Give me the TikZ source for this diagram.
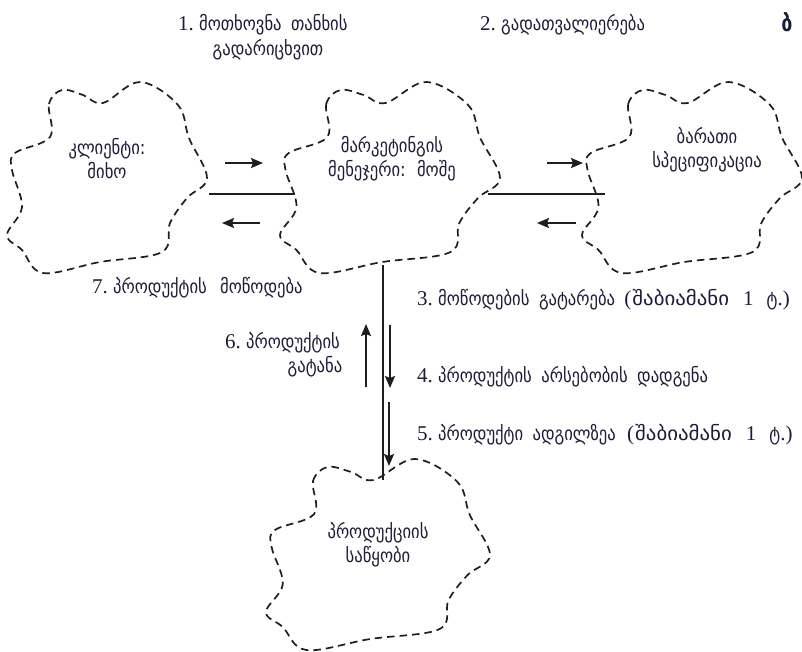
\documentclass[tikz,border=0pt]{standalone}
\usepackage{fontspec}
\setmainfont{Liberation Serif}
\newfontfamily\geofont[Scale=0.92,FakeStretch=0.86,WordSpace=1.8]{DejaVu Sans}
\newfontfamily\geowide[Scale=0.92,FakeStretch=1.08]{DejaVu Sans}
\usetikzlibrary{arrows.meta}
\definecolor{ink}{RGB}{28,28,52}
\definecolor{lineink}{RGB}{30,30,30}
\newcommand{\geo}[1]{{\geofont #1}}
\newcommand{\qty}{(\hspace{1pt}{\geowide შაბიამანი}\hspace{14pt}1\hspace{13pt}\geo{ტ}.)}

\tikzset{
  cloud/.pic={
    \draw[cloudline] plot[smooth cycle, tension=0.6] coordinates {
      (-57,-41) (-58,-74) (-45,-88) (-24,-83) (-4,-75) (33,-96)
      (71,-73) (82,-40) (100,0) (80,20) (63,45) (55,74)
      (-7,84) (-64,95) (-85,72) (-100,57) (-85,29) (-95,-8)
      (-92,-25)};
  }
}

\begin{document}
\begin{tikzpicture}[x=1pt,y=-1pt,
  font=\fontsize{21}{25}\selectfont, text=ink,
  cloudline/.style={draw=lineink, line width=1.7pt, dash pattern=on 7.5pt off 5pt},
  link/.style={draw=lineink, line width=1.3pt},
  arr/.style={draw=lineink, line width=1.9pt,
    -{Stealth[length=12pt,width=10pt,inset=2pt]}},
  lab/.style={inner sep=0pt, align=center},
  item/.style={inner sep=0pt, anchor=base west},
  sub/.style={inner sep=0pt, anchor=base}]

\useasboundingbox (0,0) rectangle (802,651);

% the four clouds
\pic at (107,178) {cloud};
\pic[xscale=1.1] at (390,178) {cloud};
\pic[xscale=1.1] at (692,178) {cloud};
\pic[xscale=1.12] at (378,555) {cloud};

% labels inside the clouds
\node[lab] (client) at (107,159) {\geo{კლიენტი:}\\[-1pt]\geo{მიხო}};
\node[lab] (manager) at (392,159) {\geo{მარკეტინგის}\\[-1pt]\geo{მენეჯერი: მოშე}};
\node[lab] (card) at (707,150) {\geo{ბარათი}\\[-1pt]\geo{სპეციფიკაცია}};
\node[lab] (store) at (378,545) {\geo{პროდუქციის}\\[-1pt]\geo{საწყობი}};

% step captions
\node[item] (s1) at (178,30) {1.\ \geo{მოთხოვნა თანხის}};
\node[sub] (s1b) at (268,55) {\geo{გადარიცხვით}};
\node[item] (s2) at (480,30) {2.\ \geo{გადათვალიერება}};
\node[inner sep=0pt, anchor=base] (mark) at (787,31)
  {\fontsize{25}{30}\selectfont\geofont\bfseries ბ};
\node[item] (s3) at (417,305) {3.\ \geo{მოწოდების გატარება}\hspace{4pt} \qty};
\node[item] (s4) at (417,382) {4.\ \geo{პროდუქტის არსებობის დადგენა}};
\node[item] (s5) at (417,440) {5.\ \geo{პროდუქტი ადგილზეა}\hspace{6pt} \qty};
\node[item] (s6) at (225,348) {6.\ \geo{პროდუქტის}};
\node[sub] (s6b) at (315,372) {\geo{გატანა}};
\node[item] (s7) at (92,293) {7.\ \geo{პროდუქტის}\hspace{8pt} \geo{მოწოდება}};

% end points of the links between the clouds
\coordinate (cR) at (209,194);
\coordinate (mL) at (295,194);
\coordinate (mR) at (488,194);
\coordinate (kL) at (605,194);
\coordinate (mB) at (383,265);
\coordinate (sT) at (383,480);

\draw[link] (cR) -- (mL);
\draw[link] (mR) -- (kL);
\draw[link] (mB) -- (sT);

% message arrows
\coordinate (a1s) at (225,163); \coordinate (a1e) at (263,163);
\coordinate (a2s) at (260,223); \coordinate (a2e) at (222,223);
\coordinate (a3s) at (547,163); \coordinate (a3e) at (583,163);
\coordinate (a4s) at (576,223); \coordinate (a4e) at (537,223);
\coordinate (a5s) at (366,387); \coordinate (a5e) at (366,324);
\coordinate (a6s) at (390,325); \coordinate (a6e) at (390,388);
\coordinate (a7s) at (389,402); \coordinate (a7e) at (389,466);

\draw[arr] (a1s) -- (a1e);
\draw[arr] (a2s) -- (a2e);
\draw[arr] (a3s) -- (a3e);
\draw[arr] (a4s) -- (a4e);
\draw[arr] (a5s) -- (a5e);
\draw[arr] (a6s) -- (a6e);
\draw[arr] (a7s) -- (a7e);
\end{tikzpicture}
\end{document}
